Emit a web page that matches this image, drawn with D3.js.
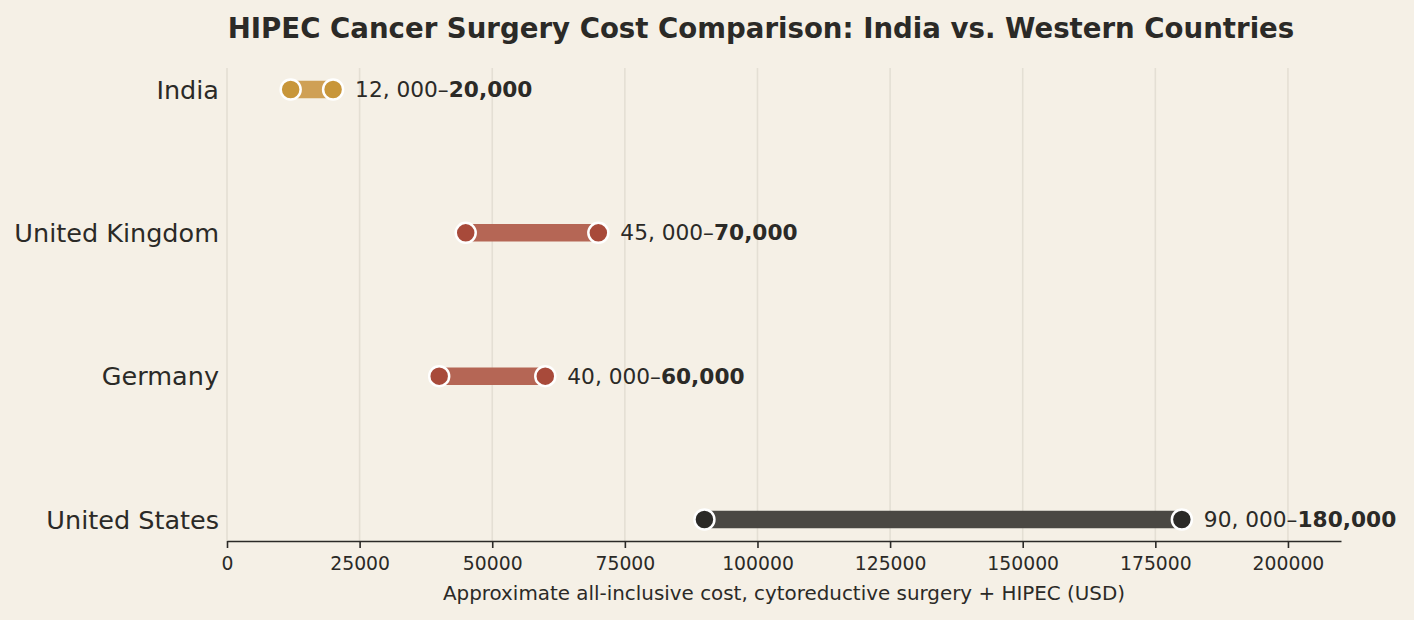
<!DOCTYPE html>
<html>
<head>
<meta charset="utf-8">
<script src="https://cdn.jsdelivr.net/npm/d3@7"></script>
<style>
  body { margin: 0; background: #f5f0e6; }
  svg { display: block; font-family: "DejaVu Sans", sans-serif; }
</style>
</head>
<body>
<div id="chart"></div>
<script>
// data
const countries = ["India", "United Kingdom", "Germany", "United States"];
const lowCost = [12000, 45000, 40000, 90000];
const highCost = [20000, 70000, 60000, 180000];
const lowLabels = ["12, 000–", "45, 000–", "40, 000–", "90, 000–"];
const highLabels = ["20,000", "70,000", "60,000", "180,000"];
const xTicks = [0, 25000, 50000, 75000, 100000, 125000, 150000, 175000, 200000];

const dotColor = ["#c8963a", "#a84a3a", "#a84a3a", "#2b2a27"];
const lineColor = ["#cfa055", "#b56655", "#b56655", "#4a4843"];

const width = 1414, height = 620;
const margin = { top: 68, right: 73, bottom: 79, left: 227 };

const svg = d3.select("#chart")
  .append("svg")
  .attr("width", width)
  .attr("height", height);

svg.append("rect").attr("width", width).attr("height", height).attr("fill", "#f5f0e6");

const x = d3.scaleLinear()
  .domain([0, 210000])
  .range([margin.left, width - margin.right]);

const y = d3.scalePoint()
  .domain(countries)
  .range([margin.top, height - margin.bottom])
  .padding(0.15);

// grid
svg.append("g")
  .selectAll("line")
  .data(xTicks)
  .join("line")
  .attr("x1", d => x(d)).attr("x2", d => x(d))
  .attr("y1", margin.top).attr("y2", height - margin.bottom)
  .attr("stroke", "#e4dfd4")
  .attr("stroke-width", 1.6);

// x axis
const xAxis = svg.append("g")
  .attr("transform", "translate(0," + (height - margin.bottom) + ")")
  .call(d3.axisBottom(x).tickValues(xTicks).tickFormat(d3.format("d")).tickSize(7).tickSizeOuter(0));
xAxis.select(".domain").attr("stroke", "#2b2a27").attr("stroke-width", 1.6);
xAxis.selectAll(".tick line").attr("stroke", "#2b2a27").attr("stroke-width", 1.6);
xAxis.selectAll(".tick text")
  .attr("fill", "#2b2a27")
  .attr("font-size", 18.8)
  .attr("font-family", "DejaVu Sans")
  .attr("dy", "1.0em");

svg.append("text")
  .attr("x", (x(0) + x(210000)) / 2)
  .attr("y", 600)
  .attr("text-anchor", "middle")
  .attr("fill", "#2b2a27")
  .attr("font-size", 19.9)
  .text("Approximate all-inclusive cost, cytoreductive surgery + HIPEC (USD)");

// y labels
svg.append("g")
  .selectAll("text")
  .data(countries)
  .join("text")
  .attr("x", margin.left - 8)
  .attr("y", d => y(d))
  .attr("dy", "0.36em")
  .attr("text-anchor", "end")
  .attr("fill", "#2b2a27")
  .attr("font-size", 25.5)
  .text(d => d);

// ranges
const rows = svg.append("g")
  .selectAll("g")
  .data(countries)
  .join("g");

rows.append("line")
  .attr("x1", (d, i) => x(lowCost[i]))
  .attr("x2", (d, i) => x(highCost[i]))
  .attr("y1", d => y(d)).attr("y2", d => y(d))
  .attr("stroke", (d, i) => lineColor[i])
  .attr("stroke-width", 17.5);

rows.selectAll("circle")
  .data((d, i) => [[d, lowCost[i], i], [d, highCost[i], i]])
  .join("circle")
  .attr("cx", d => x(d[1]))
  .attr("cy", d => y(d[0]))
  .attr("r", 10)
  .attr("fill", d => dotColor[d[2]])
  .attr("stroke", "#ffffff")
  .attr("stroke-width", 2.5);

const labels = rows.append("text")
  .attr("x", (d, i) => x(highCost[i]) + 22)
  .attr("y", d => y(d))
  .attr("dy", "0.35em")
  .attr("fill", "#2b2a27")
  .attr("font-size", 21.7);
labels.append("tspan").text((d, i) => lowLabels[i]);
labels.append("tspan").attr("font-weight", "bold").text((d, i) => highLabels[i]);

// title
svg.append("text")
  .attr("x", 761)
  .attr("y", 38)
  .attr("text-anchor", "middle")
  .attr("fill", "#2b2a27")
  .attr("font-size", 27.6)
  .attr("font-weight", "bold")
  .text("HIPEC Cancer Surgery Cost Comparison: India vs. Western Countries");
</script>
</body>
</html>
